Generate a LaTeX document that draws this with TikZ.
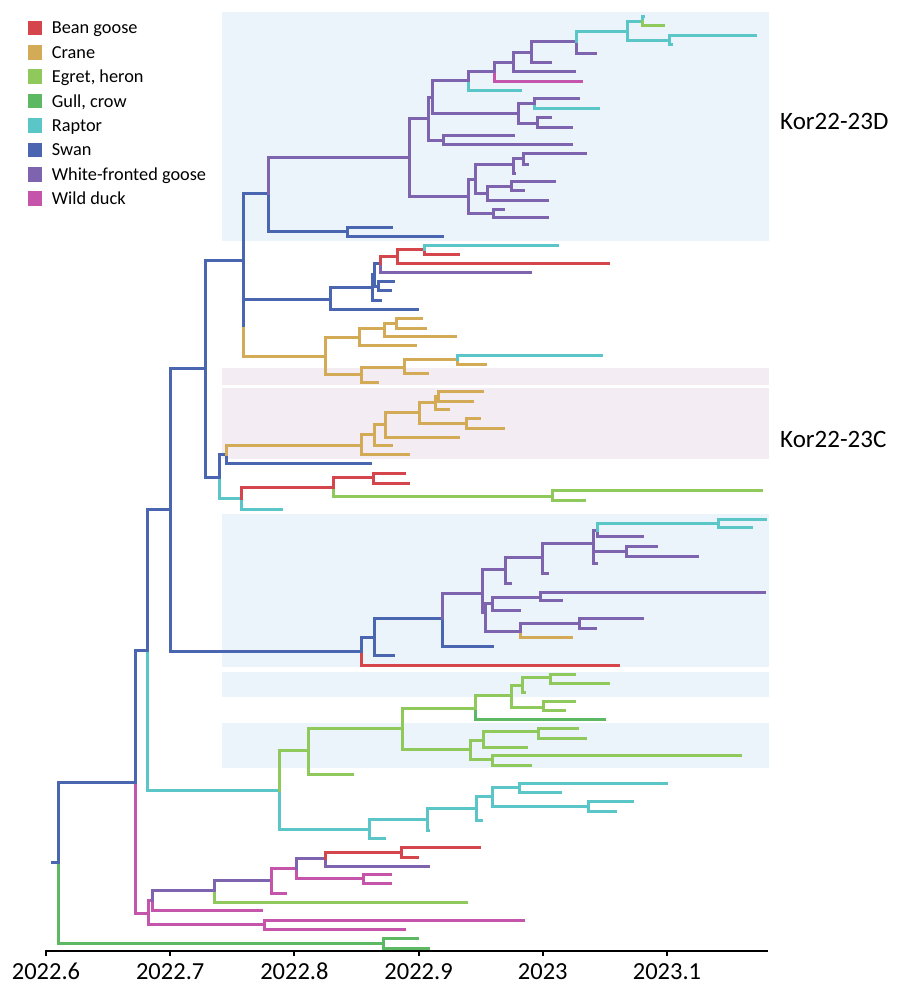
\documentclass[tikz,border=0pt]{standalone}
\usepackage{fontspec}
\setmainfont{Carlito}
\definecolor{bean}{HTML}{D4464C}
\definecolor{crane}{HTML}{D3AA55}
\definecolor{egret}{HTML}{8FC95C}
\definecolor{gull}{HTML}{5CB862}
\definecolor{raptor}{HTML}{5BC6C8}
\definecolor{swan}{HTML}{4B66B1}
\definecolor{wfg}{HTML}{7E64AF}
\definecolor{duck}{HTML}{C555AA}
\definecolor{bgblue}{HTML}{EBF3FB}
\definecolor{bgpink}{HTML}{F3ECF3}
\tikzset{
  br/.style={line width=3pt, line cap=rect},
  legsq/.style={draw=none, minimum size=14.6pt, inner sep=0pt},
  legtxt/.style={anchor=base west, font=\fontsize{18.3}{22}\selectfont, inner sep=0pt},
  cladetxt/.style={anchor=west, font=\fontsize{25}{30}\selectfont, inner sep=0pt},
  axtxt/.style={font=\fontsize{24.5}{30}\selectfont, inner sep=0pt},
}
\begin{document}
\begin{tikzpicture}[x=1pt,y=-1pt]
\useasboundingbox (0,0) rectangle (900,992);
\fill[white] (0,0) rectangle (900,992);
% background bands
\fill[bgblue] (222,12) rectangle (769,241);
\fill[bgpink] (222,368) rectangle (769,385);
\fill[bgpink] (222,388) rectangle (769,459);
\fill[bgblue] (222,514) rectangle (769,667);
\fill[bgblue] (222,672) rectangle (769,697);
\fill[bgblue] (222,723) rectangle (769,768);
% coordinates (snapped to the pixel grid)
\foreach \n/\x/\y in {
 rs/52/861.7, root/58.2/861.7, a134/134.5/781.7, gb/383.2/943.3, gb1/417.1/938.3, gb2/427.5/947.7,
 a147/146.7/649.5, a170/170/509.3, a205/205/368.3, a243/243.3/260, a243s/243.3/328, a219/219/476.5,
 b361/361/650.7, eg/278.5/790, m147/147.5/913.3,
 d268/268.3/193, d347/346.7/231.3, d347a/390.7/227, d347b/441.7/236,
 n409/409/157, n428/428.3/118, n432/432.3/96.7, n468/468.3/80, n494/494.3/71, n513/512.7/62,
 n531/530.7/52, n576/576.3/41, n627/626.7/31, n641/641.5/21, t641a/643/16, t641b/662.7/25,
 n669/669.3/40, t669a/754.5/35, t669b/670.5/44, t576/595/53, t531/550/62, t513/574/71,
 t494/580.7/81, t468/519.5/90,
 n518/517.7/113, n534/533.7/103, t534a/577.7/98, t534b/597.7/108, n537/537/122.5, t537a/550/117, t537b/571/127,
 n443/443.3/140, t443a/512.7/135, t443b/571/144,
 n468b/468.3/196, n475/475/179, n513b/512.7/164, n523/523.3/158, t523a/584.7/153, t523b/526.7/164, t513b/513.7/173,
 n487/486.7/193, n511/511.3/185.5, t511a/554/181, t511b/523/190, t487/546.7/200,
 n493/492.7/213, t493a/502.7/209, t493b/546.7/217,
 s330/330/299, ts330/417.3/309, s372/372.3/287.3, ts372/380/300, s374/374.3/274.3, s380/380/263.3,
 ts380/530/272.3, r397/397.3/256, tr397/608.3/263.3, r424/424.3/249.3, tr424a/556.7/245, tr424b/458.3/253.7,
 s378/377.7/285.5, ts378a/392.7/281, ts378b/390.3/290,
 c325/325/356, c359/359.3/337, c384/384/328.3, c396/396/322.7, tc396a/420.7/318.3, tc396b/424.7/327.7,
 tc384/455.3/336, tc359/414.5/345, c361/360.7/374.3, c404/404/366.7, c457/457.3/359, tc457a/601.3/354.7,
 tc457b/485.3/364.3, tc404/427.3/372.7, tc361/377.3/381.7,
 k226/225.5/454, tk226/369.8/463.3, k361/361/445, tk361/407.7/454.3, k374/373.6/434.3, tk374/390.5/445,
 k385/384.7/424, tk385/458.2/436.7, k419/419.2/412.3, k434/434.5/402.3, k437/437.6/395.5,
 tk437a/482.3/391, tk437b/472/400.7, tk434/447.9/409, k466/465.9/422.7, tk466a/478.5/417.7, tk466b/502.6/427.7,
 k240/240.5/498.3, tk240/281.4/509.3, k333/333/486.7, k372/372.5/477.3, tk372a/403.9/472.7, tk372b/407.7/482.7,
 k552/552.4/495.7, tk552a/761/490, tk552b/584.1/500,
 b374/373.9/636.7, tb361/618/665, b442/442.3/618.3, tb374/393.1/655, u482/482.3/593.3, tb442/492.3/646,
 v505/505.2/569.3, w484/484.6/612, x542/542.2/557.3, tv505/509.7/582.7, x593/592.9/542.7, tx542/546.6/573.3,
 x597/597/529.5, x626/626.2/551, tx593/596/563.3, x718/718/522.7, tx597/642/536, tx718a/765/518.7,
 tx718b/750.5/527.3, tx626a/655.8/546, tx626b/696.9/555.7, w492/492.3/603.3, w520/520/630.7,
 w540/540.4/596.7, tw492/518.9/610, tw540a/764.2/591.7, tw540b/560.7/600, w578/578.5/623.3,
 tw520/570.7/637.3, tw578a/642.1/618.3, tw578b/595.1/628,
 eg308/308/750, ra369/369.4/828.5, eg401/401.6/727.7, teg308/352.4/774.3, eg474/474.5/707.7,
 eg470/470.1/749.3, eg511/510.8/695, teg474/604.4/718.7, eg522/521.9/685, eg543/543.3/706.7,
 eg550/549.6/677, teg522/523.5/692, teg550a/574.4/673.7, teg550b/608/682.7, teg543a/574.4/701,
 teg543b/563.7/710.3, eg483/482.6/739.7, eg492/492.3/759.3, eg538/538.1/731.3, teg483/526.3/747,
 teg538a/577.4/728, teg538b/584.8/737.7, teg492a/740.1/755, teg492b/530/764.7,
 ra427/426.8/819.3, tra369/383.5/837.5, ra476/475.6/808.2, tra427/428/830, ra492/492.3/796,
 tra476/481.2/820, ra519/518.9/787.3, ra588/587.7/805.7, tra519a/666.2/783.3, tra519b/560/792.3,
 tra588a/632.1/801, tra588b/615.1/810.7,
 m152/151.8/900, mc264/263.9/924, mb214/213.6/890, tm152/261.4/910, md271/271.4/880,
 tmb214/465.7/901.7, me296/295.7/867.7, tmd271/284.6/892.7, mf325/325/858, mg362/362.5/878.3,
 mh401/400.7/851.7, tmf325/427.5/866, tmh401a/478.6/846.7, tmh401b/417.1/856.7,
 tmg362a/390.4/873.7, tmg362b/390.4/883, tmc264a/522.5/919.7, tmc264b/403.6/929}
 {\coordinate (\n) at ({round(\x)+0.5},{round(\y)+0.5});}
% branches
\draw[br,swan] (rs) -- (root);
\draw[br,swan] (a243) -- (a243s);
\draw[br,crane] (a243s) |- (c325);
\foreach \c/\p/\k in {
 gull/root/gb, gull/gb/gb1, gull/gb/gb2, swan/root/a134,
 duck/a134/m147, swan/a134/a147, raptor/a147/eg, swan/a147/a170,
 swan/a170/a205, swan/a170/b361, swan/a205/a219, swan/a205/a243,
 swan/a243/s330, swan/a243/d268,
 swan/d268/d347, swan/d347/d347a, swan/d347/d347b, wfg/d268/n409,
 wfg/n409/n428, wfg/n409/n468b, wfg/n428/n432, wfg/n428/n443,
 wfg/n432/n518, wfg/n432/n468, raptor/n468/t468, wfg/n468/n494,
 duck/n494/t494, wfg/n494/n513, wfg/n513/t513, wfg/n513/n531,
 wfg/n531/t531, wfg/n531/n576, wfg/n576/t576, raptor/n576/n627,
 raptor/n627/n641, raptor/n627/n669, raptor/n641/t641a, egret/n641/t641b,
 raptor/n669/t669a, raptor/n669/t669b,
 wfg/n518/n534, wfg/n518/n537, raptor/n534/t534b, wfg/n534/t534a,
 wfg/n537/t537a, wfg/n537/t537b, wfg/n443/t443a, wfg/n443/t443b,
 wfg/n468b/n475, wfg/n468b/n493, wfg/n475/n513b, wfg/n475/n487,
 wfg/n513b/n523, wfg/n513b/t513b, wfg/n523/t523a, wfg/n523/t523b,
 wfg/n487/n511, wfg/n487/t487, wfg/n511/t511a, wfg/n511/t511b,
 wfg/n493/t493a, wfg/n493/t493b,
 swan/s330/ts330, swan/s330/s372, swan/s372/ts372, swan/s372/s374,
 swan/s374/s378, swan/s374/s380, swan/s378/ts378a, swan/s378/ts378b,
 wfg/s380/ts380, bean/s380/r397, bean/r397/tr397, bean/r397/r424,
 bean/r424/tr424b, raptor/r424/tr424a,
 crane/c325/c359, crane/c325/c361, crane/c359/tc359, crane/c359/c384,
 crane/c384/tc384, crane/c384/c396, crane/c396/tc396a, crane/c396/tc396b,
 crane/c361/tc361, crane/c361/c404, crane/c404/tc404, crane/c404/c457,
 crane/c457/tc457b, raptor/c457/tc457a,
 raptor/a219/k240, swan/a219/k226, swan/k226/tk226, crane/k226/k361,
 crane/k361/tk361, crane/k361/k374, crane/k374/tk374, crane/k374/k385,
 crane/k385/tk385, crane/k385/k419, crane/k419/k434, crane/k419/k466,
 crane/k434/tk434, crane/k434/k437, crane/k437/tk437a, crane/k437/tk437b,
 crane/k466/tk466a, crane/k466/tk466b,
 raptor/k240/tk240, bean/k240/k333, egret/k333/k552, bean/k333/k372,
 bean/k372/tk372a, bean/k372/tk372b, egret/k552/tk552a, egret/k552/tk552b,
 bean/b361/tb361, swan/b361/b374, swan/b374/tb374, swan/b374/b442,
 swan/b442/tb442, wfg/b442/u482, wfg/u482/w484, wfg/u482/v505,
 wfg/v505/tv505, wfg/v505/x542, wfg/x542/tx542, wfg/x542/x593,
 wfg/x593/tx593, wfg/x593/x626, wfg/x593/x597, wfg/x597/tx597, raptor/x597/x718,
 raptor/x718/tx718a, raptor/x718/tx718b, wfg/x626/tx626a, wfg/x626/tx626b,
 wfg/w484/w492, wfg/w484/w520, wfg/w492/tw492, wfg/w492/w540,
 wfg/w540/tw540a, wfg/w540/tw540b, crane/w520/tw520, wfg/w520/w578,
 wfg/w578/tw578a, wfg/w578/tw578b,
 raptor/eg/ra369, egret/eg/eg308, egret/eg308/teg308, egret/eg308/eg401,
 egret/eg401/eg470, egret/eg401/eg474, gull/eg474/teg474, egret/eg474/eg511,
 egret/eg511/eg543, egret/eg511/eg522, egret/eg522/teg522, egret/eg522/eg550,
 egret/eg550/teg550a, egret/eg550/teg550b, egret/eg543/teg543a, egret/eg543/teg543b,
 egret/eg470/eg483, egret/eg470/eg492, egret/eg483/teg483, egret/eg483/eg538,
 egret/eg538/teg538a, egret/eg538/teg538b, egret/eg492/teg492a, egret/eg492/teg492b,
 raptor/ra369/tra369, raptor/ra369/ra427, raptor/ra427/tra427, raptor/ra427/ra476,
 raptor/ra476/tra476, raptor/ra476/ra492, raptor/ra492/ra519, raptor/ra492/ra588,
 raptor/ra519/tra519a, raptor/ra519/tra519b, raptor/ra588/tra588a, raptor/ra588/tra588b,
 duck/m147/mc264, duck/m147/m152, duck/m152/tm152, wfg/m152/mb214,
 egret/mb214/tmb214, wfg/mb214/md271, duck/md271/tmd271, duck/md271/me296,
 duck/me296/mg362, wfg/me296/mf325, wfg/mf325/tmf325, bean/mf325/mh401,
 bean/mh401/tmh401a, bean/mh401/tmh401b, duck/mg362/tmg362a, duck/mg362/tmg362b,
 duck/mc264/tmc264a, duck/mc264/tmc264b}
 {\draw[br,\c] (\p) |- (\k);}
% clade labels
\node[cladetxt] (kd) at (780,121.7) {Kor22-23D};
\node[cladetxt] (kc) at (780,439) {Kor22-23C};
% legend
\foreach \i/\c/\t in {0/bean/Bean goose, 1/crane/Crane, 2/egret/{Egret, heron}, 3/gull/{Gull, crow},
  4/raptor/Raptor, 5/swan/Swan, 6/wfg/White-fronted goose, 7/duck/Wild duck}{
  \node[legsq, fill=\c] (lsq\i) at (35,28+24.4*\i) {};
  \node[legtxt] (ltx\i) at (51.7,34+24.4*\i) {\t};
}
% axis
\coordinate (ax0) at (45,951);
\coordinate (ax1) at (768,951);
\draw[line width=2pt] (ax0) -- (ax1);
\foreach \i/\l in {0/2022.6, 1/2022.7, 2/2022.8, 3/2022.9, 4/2023, 5/2023.1}{
  \coordinate (tk\i) at ({round(46+124.2*\i)},951);
  \draw[line width=2pt] (tk\i) -- ++(0,5);
  \node[axtxt] (al\i) at (46+124.2*\i,971.7) {\l};
}
\end{tikzpicture}
\end{document}
